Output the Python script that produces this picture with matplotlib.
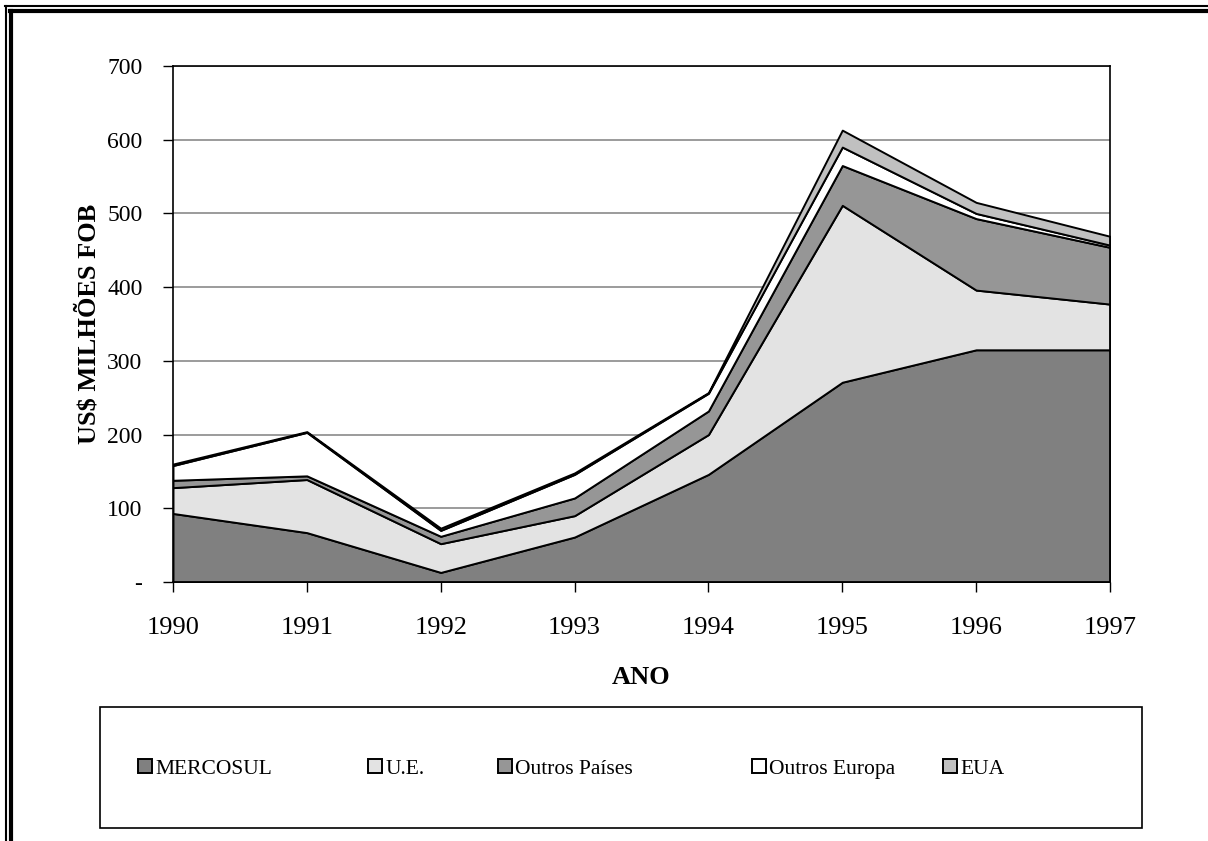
import matplotlib.pyplot as plt
from matplotlib.lines import Line2D
from matplotlib.patches import Rectangle

plt.rcParams['font.family'] = ['Liberation Serif', 'DejaVu Serif']

# exportacoes por destino, US$ milhoes FOB
anos = [1990, 1991, 1992, 1993, 1994, 1995, 1996, 1997]
mercosul = [93, 67, 13, 61, 146, 271, 315, 315]
ue = [35, 72, 39, 29, 54, 240, 81, 62]
outros_paises = [10, 5, 10, 24, 32, 54, 97, 77]
outros_europa = [20, 59, 8, 32, 24, 25, 7, 3]
eua = [2, 1, 3, 2, 1, 23, 15, 12]

series = [mercosul, ue, outros_paises, outros_europa, eua]
nomes = ["MERCOSUL", "U.E.", "Outros Países", "Outros Europa", "EUA"]
cores = ["#808080", "#e3e3e3", "#969696", "#ffffff", "#c0c0c0"]

W, H = 1208, 841
fig = plt.figure(figsize=(W / 100, H / 100), dpi=100)
ax = fig.add_axes([173/W, 1 - 582/H, (1110-173)/W, (582-66)/H])

base = [0] * len(anos)
areas = []
for vals, nome, cor in zip(series, nomes, cores):
    topo = [b + v for b, v in zip(base, vals)]
    areas.append(ax.fill_between(anos, base, topo, facecolor=cor,
                                 edgecolor="black", linewidth=1.4, zorder=2))
    base = topo

ax.set_xlim(1990, 1997)
ax.set_ylim(0, 700)
ax.set_yticks(range(0, 701, 100))
ax.set_yticklabels(["-"] + [str(v) for v in range(100, 701, 100)])
ax.set_xticks(anos)
ax.set_xticklabels([str(a) for a in anos])
ax.yaxis.grid(True, color="#808080", linewidth=1.1, zorder=0)
ax.set_axisbelow(True)
for s in ax.spines.values():
    s.set_linewidth(1.2)
    s.set_color("black")
ax.tick_params(axis="both", direction="out", length=7, width=1)
ax.tick_params(axis="x", labelsize=19, pad=18)
ax.tick_params(axis="y", labelsize=17, pad=15)

ax.set_xlabel("ANO", fontsize=19, fontweight="bold", labelpad=20)
ax.set_ylabel("US$ MILHÕES FOB", fontsize=19, fontweight="bold", labelpad=5)

# caixa da legenda
fig.patches.append(Rectangle((100/W, 1 - 828/H), (1142-100)/W, 121/H,
                             transform=fig.transFigure, facecolor="white",
                             edgecolor="black", linewidth=1.2))
# uma entrada por vez, cada uma na sua coluna
pos_x = [138, 368, 498, 752, 943]
for area, nome, px in zip(areas, nomes, pos_x):
    fig.legend([area], [nome], loc="center left",
               bbox_to_anchor=(px / W, 1 - 769/H), borderpad=0, borderaxespad=0,
               frameon=False, fontsize=15.5, handlelength=0.65,
               handleheight=0.65, handletextpad=0.15)

# moldura dupla da pagina
fig.add_artist(Line2D([5/W, 1], [1 - 6/H, 1 - 6/H], color="black", lw=1.5,
                      transform=fig.transFigure))
fig.add_artist(Line2D([5.5/W, 5.5/W], [0, 1 - 6/H], color="black", lw=1.5,
                      transform=fig.transFigure))
fig.add_artist(Line2D([10/W, 1], [1 - 11/H, 1 - 11/H], color="black", lw=3,
                      transform=fig.transFigure))
fig.add_artist(Line2D([10.5/W, 10.5/W], [0, 1 - 11/H], color="black", lw=3,
                      transform=fig.transFigure))

fig.savefig("out.png", dpi=100)
